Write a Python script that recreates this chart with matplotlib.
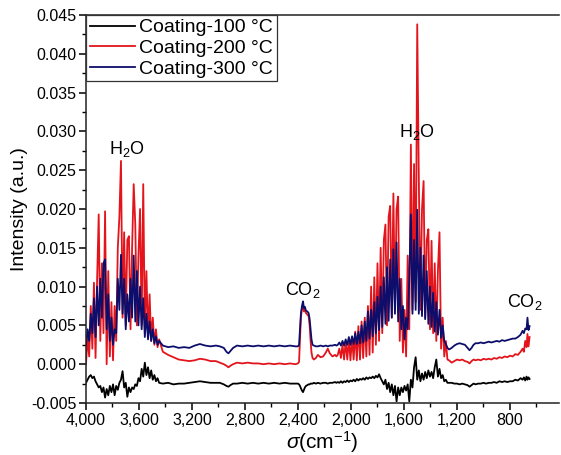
import numpy as np
import matplotlib
matplotlib.use("Agg")
import matplotlib.pyplot as plt
from matplotlib.ticker import FuncFormatter, MultipleLocator

plt.rcParams['font.family'] = ['Liberation Sans', 'DejaVu Sans']
plt.rcParams['mathtext.fontset'] = 'custom'
plt.rcParams['mathtext.rm'] = 'Liberation Sans'
plt.rcParams['mathtext.it'] = 'Liberation Sans:italic'

# --- data (wavenumber in cm-1, intensity a.u.) ---

# H2O band 4000-3450 (12 cm-1 grid)
wn_h2o_a = np.arange(4000, 3447, -12)
red_h2o_a = [0.0000, 0.0035, 0.0010, 0.0075, 0.0020, 0.0105, 0.0008, 0.0110, 0.0193, 0.0030,
             0.0130, 0.0040, 0.0197, 0.0000, 0.0120, 0.0010, 0.0080, 0.0005, 0.0075, 0.0030,
             0.0150, 0.0190, 0.0262, 0.0060, 0.0170, 0.0050, 0.0160, 0.0165, 0.0045, 0.0150,
             0.0232, 0.0180, 0.0050, 0.0140, 0.0200, 0.0050, 0.0232, 0.0045, 0.0120, 0.0035,
             0.0090, 0.0030, 0.0060, 0.0025, 0.0045, 0.0022, 0.0032]
blue_h2o_a = [0.0025, 0.0045, 0.0030, 0.0065, 0.0040, 0.0085, 0.0035, 0.0100, 0.0050, 0.0110,
              0.0060, 0.0130, 0.0135, 0.0045, 0.0090, 0.0030, 0.0060, 0.0025, 0.0045, 0.0040,
              0.0110, 0.0070, 0.0141, 0.0065, 0.0110, 0.0045, 0.0090, 0.0055, 0.0110, 0.0060,
              0.0140, 0.0055, 0.0120, 0.0050, 0.0100, 0.0045, 0.0085, 0.0035, 0.0065, 0.0032,
              0.0055, 0.0030, 0.0045, 0.0027, 0.0036, 0.0025, 0.0030]
black_h2o_a = [-0.0024, -0.0020, -0.0016, -0.0014, -0.0018, -0.0016, -0.0022, -0.0026, -0.0030, -0.0028,
               -0.0036, -0.0030, -0.0043, -0.0032, -0.0040, -0.0028, -0.0036, -0.0026, -0.0040, -0.0028,
               -0.0033, -0.0024, -0.0020, -0.0009, -0.0030, -0.0024, -0.0042, -0.0030, -0.0036, -0.0030,
               -0.0032, -0.0026, -0.0028, -0.0018, -0.0022, -0.0006, -0.0016, 0.0002, -0.0014, -0.0004,
               -0.0018, -0.0008, -0.0020, -0.0014, -0.0022, -0.0018, -0.0024]

# flat region 3420-2420
wn_flat = [3420, 3380, 3340, 3300, 3260, 3220, 3180, 3140, 3100, 3060, 3020, 2990, 2960, 2940, 2925,
           2910, 2890, 2860, 2820, 2780, 2740, 2700, 2660, 2620, 2580, 2540, 2500, 2460, 2420]
red_flat = [0.0016, 0.0012, 0.0009, 0.0006, 0.0005, 0.0004, 0.0005, 0.0007, 0.0006, 0.0004, 0.0004,
            0.0002, 0.0000, -0.0002, -0.0004, -0.0002, 0.0000, 0.0002, 0.0001, 0.0002, 0.0001, 0.0001,
            0.0000, 0.0001, 0.0000, 0.0001, 0.0000, 0.0001, 0.0000]
blue_flat = [0.0024, 0.0022, 0.0023, 0.0021, 0.0022, 0.0021, 0.0024, 0.0026, 0.0024, 0.0023, 0.0024,
             0.0023, 0.0021, 0.0016, 0.0014, 0.0017, 0.0021, 0.0024, 0.0023, 0.0024, 0.0023, 0.0024,
             0.0023, 0.0024, 0.0023, 0.0024, 0.0023, 0.0024, 0.0023]
black_flat = [-0.0025, -0.0024, -0.0026, -0.0025, -0.0025, -0.0024, -0.0023, -0.0022, -0.0023, -0.0024,
              -0.0024, -0.0024, -0.0026, -0.0028, -0.0029, -0.0027, -0.0025, -0.0025, -0.0024, -0.0025,
              -0.0024, -0.0025, -0.0024, -0.0025, -0.0024, -0.0025, -0.0024, -0.0025, -0.0025]

# CO2 band 2400-2110
wn_co2 = [2400, 2392, 2385, 2378, 2370, 2362, 2355, 2348, 2340, 2330, 2320, 2312, 2305, 2298, 2290,
          2280, 2265, 2250, 2230, 2210, 2190, 2175, 2160, 2140, 2120, 2110]
red_co2 = [0.0001, 0.0003, 0.0030, 0.0060, 0.0072, 0.0077, 0.0068, 0.0070, 0.0066, 0.0064, 0.0062,
           0.0050, 0.0030, 0.0015, 0.0008, 0.0006, 0.0008, 0.0012, 0.0009, 0.0010, 0.0015, 0.0020,
           0.0014, 0.0010, 0.0012, 0.0010]
blue_co2 = [0.0023, 0.0025, 0.0045, 0.0065, 0.0075, 0.0081, 0.0072, 0.0074, 0.0069, 0.0068, 0.0066,
            0.0058, 0.0045, 0.0032, 0.0025, 0.0024, 0.0023, 0.0023, 0.0024, 0.0023, 0.0024, 0.0023,
            0.0024, 0.0024, 0.0025, 0.0024]
black_co2 = [-0.0025, -0.0026, -0.0028, -0.0031, -0.0034, -0.0036, -0.0033, -0.0030, -0.0028, -0.0027,
             -0.0026, -0.0026, -0.0025, -0.0025, -0.0025, -0.0024, -0.0025, -0.0024, -0.0025, -0.0024,
             -0.0024, -0.0025, -0.0024, -0.0024, -0.0023, -0.0024]

# H2O band 2100-1260 (12 cm-1 grid)
wn_h2o_b = np.arange(2100, 1259, -12)
red_h2o_b = [0.0012, 0.0020, 0.0008, 0.0025, 0.0006, 0.0030, 0.0006, 0.0032, 0.0005, 0.0034,
             0.0006, 0.0042, 0.0005, 0.0049, 0.0006, 0.0055, 0.0008, 0.0060, 0.0010, 0.0075,
             0.0012, 0.0100, 0.0015, 0.0112, 0.0025, 0.0130, 0.0030, 0.0150, 0.0040, 0.0160,
             0.0180, 0.0050, 0.0190, 0.0204, 0.0060, 0.0220, 0.0070, 0.0200, 0.0216, 0.0030,
             0.0110, 0.0015, 0.0070, 0.0010, 0.0140, 0.0045, 0.0283, 0.0070, 0.0258, 0.0080,
             0.0438, 0.0238, 0.0070, 0.0200, 0.0236, 0.0060, 0.0160, 0.0174, 0.0045, 0.0159,
             0.0040, 0.0130, 0.0030, 0.0120, 0.0170, 0.0020, 0.0060, 0.0010, 0.0030, 0.0006,
             0.0005]
blue_h2o_b = [0.0025, 0.0028, 0.0024, 0.0030, 0.0024, 0.0032, 0.0025, 0.0035, 0.0025, 0.0036,
              0.0026, 0.0040, 0.0026, 0.0042, 0.0027, 0.0050, 0.0028, 0.0055, 0.0030, 0.0068,
              0.0033, 0.0070, 0.0036, 0.0080, 0.0040, 0.0087, 0.0044, 0.0100, 0.0048, 0.0112,
              0.0052, 0.0125, 0.0056, 0.0135, 0.0060, 0.0148, 0.0065, 0.0157, 0.0055, 0.0110,
              0.0045, 0.0075, 0.0032, 0.0060, 0.0045, 0.0110, 0.0193, 0.0065, 0.0160, 0.0070,
              0.0199, 0.0065, 0.0150, 0.0062, 0.0140, 0.0058, 0.0120, 0.0052, 0.0100, 0.0048,
              0.0092, 0.0042, 0.0080, 0.0038, 0.0070, 0.0034, 0.0050, 0.0030, 0.0026, 0.0021,
              0.0019]
black_h2o_b = [-0.0023, -0.0024, -0.0022, -0.0024, -0.0022, -0.0023, -0.0021, -0.0023, -0.0021, -0.0022,
               -0.0020, -0.0022, -0.0019, -0.0021, -0.0019, -0.0020, -0.0018, -0.0020, -0.0017, -0.0019,
               -0.0017, -0.0018, -0.0016, -0.0018, -0.0015, -0.0017, -0.0013, -0.0018, -0.0022, -0.0026,
               -0.0020, -0.0032, -0.0024, -0.0036, -0.0026, -0.0040, -0.0028, -0.0048, -0.0030, -0.0040,
               -0.0030, -0.0036, -0.0028, -0.0034, -0.0026, -0.0048, -0.0020, -0.0030, -0.0004, 0.0009,
               -0.0020, -0.0008, -0.0022, -0.0012, -0.0020, -0.0010, -0.0018, -0.0008, -0.0016, -0.0010,
               -0.0018, -0.0004, 0.0006, -0.0016, -0.0006, -0.0018, -0.0014, -0.0022, -0.0020, -0.0024,
               -0.0024]

# tail 1240-650
wn_tail = [1240, 1220, 1200, 1180, 1160, 1140, 1120, 1105, 1090, 1075, 1060, 1040, 1020, 1000, 980,
           960, 940, 920, 900, 880, 860, 840, 820, 800, 780, 760, 740, 720, 705, 695, 685, 675, 668, 660, 652]
red_tail = [0.0002, 0.0004, 0.0006, 0.0005, 0.0006, 0.0004, 0.0003, 0.0001, 0.0004, 0.0006, 0.0005,
            0.0006, 0.0005, 0.0007, 0.0006, 0.0007, 0.0006, 0.0008, 0.0007, 0.0009, 0.0008, 0.0010,
            0.0009, 0.0011, 0.0010, 0.0013, 0.0012, 0.0016, 0.0020, 0.0016, 0.0030, 0.0022, 0.0039,
            0.0023, 0.0035]
blue_tail = [0.0021, 0.0024, 0.0026, 0.0027, 0.0026, 0.0025, 0.0021, 0.0018, 0.0021, 0.0025, 0.0027,
             0.0027, 0.0028, 0.0027, 0.0028, 0.0029, 0.0028, 0.0029, 0.0030, 0.0029, 0.0031, 0.0030,
             0.0031, 0.0032, 0.0033, 0.0033, 0.0035, 0.0038, 0.0043, 0.0040, 0.0046, 0.0045, 0.0060,
             0.0044, 0.0049]
black_tail = [-0.0024, -0.0025, -0.0025, -0.0026, -0.0025, -0.0026, -0.0027, -0.0029, -0.0027, -0.0025,
              -0.0026, -0.0025, -0.0025, -0.0024, -0.0025, -0.0024, -0.0024, -0.0023, -0.0024, -0.0022,
              -0.0023, -0.0022, -0.0023, -0.0022, -0.0022, -0.0020, -0.0021, -0.0018, -0.0020, -0.0017,
              -0.0021, -0.0016, -0.0020, -0.0017, -0.0019]

labels = ['Coating-100 °C', 'Coating-200 °C', 'Coating-300 °C']
colors = ['#000000', '#e3141c', '#0d0d6b']

# join the segments
wn = np.concatenate([wn_h2o_a, wn_flat, wn_co2, wn_h2o_b, wn_tail])
series = [
    np.concatenate([black_h2o_a, black_flat, black_co2, black_h2o_b, black_tail]),
    np.concatenate([red_h2o_a, red_flat, red_co2, red_h2o_b, red_tail]),
    np.concatenate([blue_h2o_a, blue_flat, blue_co2, blue_h2o_b, blue_tail]),
]

fig = plt.figure(figsize=(5.61, 4.55), dpi=100)
ax = fig.add_axes([86 / 561, 52 / 455, (559 - 86) / 561, (403 - 15) / 455])

for y, lab, c in zip(series, labels, colors):
    ax.plot(wn, y, color=c, lw=1.3, label=lab)

ax.set_xlim(4000, 430)
ax.set_ylim(-0.005, 0.045)

# axis styling (Origin look)
ax.spines['right'].set_visible(False)
for s in ['left', 'bottom', 'top']:
    ax.spines[s].set_linewidth(1.1)
    ax.spines[s].set_color('#222222')
ax.xaxis.set_major_locator(MultipleLocator(400))
ax.xaxis.set_minor_locator(MultipleLocator(200))
ax.yaxis.set_major_locator(MultipleLocator(0.005))
ax.yaxis.set_minor_locator(MultipleLocator(0.0025))
ax.xaxis.set_major_formatter(FuncFormatter(lambda v, p: f"{v:,.0f}"))
ax.yaxis.set_major_formatter(FuncFormatter(lambda v, p: f"{v:.3f}"))
ax.tick_params(which='major', direction='out', length=5, width=1.1, labelsize=11.5, pad=2)
ax.tick_params(which='minor', direction='out', length=3, width=1.0)
ax.tick_params(top=False, right=False, which='both')

ax.set_ylabel("Intensity (a.u.)", fontsize=14, labelpad=2)
ax.set_xlabel(r"$\sigma$(cm$^{-1}$)", fontsize=15, labelpad=1)

# band labels
ax.text(3691, 0.0277, "H$_2$O", fontsize=13, ha='center', va='center')
ax.text(1502, 0.0299, "H$_2$O", fontsize=13, ha='center', va='center')
ax.text(2362, 0.0096, "CO$_2$", fontsize=13, ha='center', va='center')
ax.text(687, 0.0080, "CO$_2$", fontsize=13, ha='center', va='center')

leg = ax.legend(loc='upper left', bbox_to_anchor=(0, 1), borderaxespad=0, fontsize=14,
                handlelength=2.3, handletextpad=0.25, labelspacing=0.15, borderpad=0.2,
                fancybox=False, framealpha=1)
leg.get_frame().set_edgecolor('#333333')
leg.get_frame().set_linewidth(0.9)
for line in leg.get_lines():
    line.set_linewidth(1.3)

plt.savefig("out.png", dpi=100)
